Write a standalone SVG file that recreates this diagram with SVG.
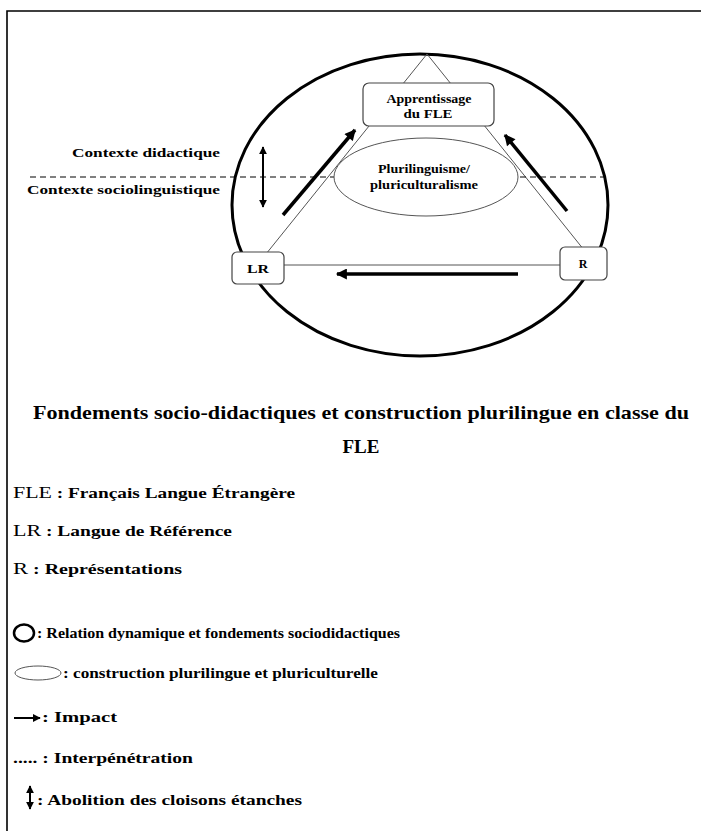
<svg xmlns="http://www.w3.org/2000/svg" width="701" height="831" viewBox="0 0 701 831">
<defs>
<style>
text{font-family:"Liberation Serif","Times New Roman",serif;fill:#000}
.b{font-weight:bold}
.box{fill:#fff;stroke:#444;stroke-width:1.2}
.thin{stroke:#555;stroke-width:1;fill:none}
.thick{stroke:#000;stroke-width:3.5;fill:none}
.lbl{font-size:12px;font-weight:bold;text-anchor:middle}
.leg{font-size:15px;font-weight:bold}
.legk{font-size:17px}
</style>
<marker id="ah" viewBox="0 0 10 10" refX="9" refY="5" markerWidth="13" markerHeight="11" markerUnits="userSpaceOnUse" orient="auto"><path d="M0,0 L10,5 L0,10 z" fill="#000"/></marker>
<marker id="ahs" viewBox="0 0 10 10" refX="9" refY="5" markerWidth="8" markerHeight="8" markerUnits="userSpaceOnUse" orient="auto-start-reverse"><path d="M0,0 L10,5 L0,10 z" fill="#000"/></marker>
</defs>
<rect width="701" height="831" fill="#fff"/>
<!-- frame -->
<path d="M7,831 V11 H701" fill="none" stroke="#000" stroke-width="1.6"/>

<g id="outer-circle"><ellipse cx="420" cy="205" rx="188" ry="151" fill="none" stroke="#000" stroke-width="3"/></g>

<g id="connectors">
<line class="thin" x1="427" y1="54" x2="266" y2="254"/>
<line class="thin" x1="427" y1="54" x2="584" y2="250"/>
<line class="thin" x1="284" y1="265" x2="560" y2="265"/>
<line x1="30" y1="177" x2="606" y2="177" stroke="#000" stroke-width="1" stroke-dasharray="6,4"/>
<line class="thick" x1="283" y1="215" x2="355" y2="130" marker-end="url(#ah)"/>
<line class="thick" x1="567" y1="211" x2="505" y2="135" marker-end="url(#ah)"/>
<line class="thick" x1="518" y1="274" x2="337" y2="274" marker-end="url(#ah)"/>
<line x1="263" y1="147" x2="263" y2="207" stroke="#000" stroke-width="2" marker-start="url(#ahs)" marker-end="url(#ahs)"/>
</g>

<g id="pluri">
<ellipse cx="426" cy="177" rx="92" ry="39" fill="#fff" stroke="#555" stroke-width="1"/>
<text class="lbl" x="424" y="173" textLength="92" lengthAdjust="spacingAndGlyphs">Plurilinguisme/</text>
<text class="lbl" x="424" y="189" textLength="108" lengthAdjust="spacingAndGlyphs">pluriculturalisme</text>
</g>

<g id="apprentissage">
<rect class="box" x="363" y="83" width="131" height="43" rx="6"/>
<text class="lbl" x="429" y="103" textLength="85" lengthAdjust="spacingAndGlyphs">Apprentissage</text>
<text class="lbl" x="428" y="118" textLength="49" lengthAdjust="spacingAndGlyphs">du FLE</text>
</g>

<g id="lr">
<rect class="box" x="232" y="252" width="52" height="32" rx="5"/>
<text class="lbl" x="258" y="273" font-size="13" textLength="22" lengthAdjust="spacingAndGlyphs">LR</text>
</g>

<g id="r">
<rect class="box" x="560" y="247" width="47" height="33" rx="5"/>
<text class="lbl" x="583" y="268" font-size="13">R</text>
</g>

<g id="context-labels">
<text class="b" x="220" y="157" font-size="13" text-anchor="end" textLength="148" lengthAdjust="spacingAndGlyphs">Contexte didactique</text>
<text class="b" x="220" y="194" font-size="13" text-anchor="end" textLength="193" lengthAdjust="spacingAndGlyphs">Contexte sociolinguistique</text>
</g>

<g id="title">
<text x="361" y="419" font-size="19" font-weight="bold" text-anchor="middle" textLength="656" lengthAdjust="spacingAndGlyphs">Fondements socio-didactiques et construction plurilingue en classe du</text>
<text x="361" y="453" font-size="19" font-weight="bold" text-anchor="middle">FLE</text>
</g>

<g id="legend">
<text x="13" y="498" textLength="282" lengthAdjust="spacingAndGlyphs"><tspan class="legk">FLE</tspan><tspan class="leg"> : Français Langue Étrangère</tspan></text>
<text x="13" y="536" textLength="219" lengthAdjust="spacingAndGlyphs"><tspan class="legk">LR</tspan><tspan class="leg"> : Langue de Référence</tspan></text>
<text x="13" y="574" textLength="169" lengthAdjust="spacingAndGlyphs"><tspan class="legk">R</tspan><tspan class="leg"> : Représentations</tspan></text>
<ellipse cx="24" cy="633" rx="10" ry="8.5" fill="none" stroke="#000" stroke-width="2.5"/>
<text class="leg" x="37" y="638" textLength="363" lengthAdjust="spacingAndGlyphs">: Relation dynamique et fondements sociodidactiques</text>
<ellipse cx="38" cy="673" rx="23" ry="7" fill="none" stroke="#555" stroke-width="1"/>
<text class="leg" x="63" y="678" textLength="315" lengthAdjust="spacingAndGlyphs">: construction plurilingue et pluriculturelle</text>
<line x1="14" y1="718" x2="40" y2="718" stroke="#000" stroke-width="2" marker-end="url(#ahs)"/>
<text class="leg" x="42" y="722" textLength="75" lengthAdjust="spacingAndGlyphs">: Impact</text>
<text class="leg" x="13" y="763" textLength="180" lengthAdjust="spacingAndGlyphs">..... : Interpénétration</text>
<line x1="30" y1="786" x2="30" y2="809" stroke="#000" stroke-width="2" marker-start="url(#ahs)" marker-end="url(#ahs)"/>
<text class="leg" x="37" y="805" textLength="265" lengthAdjust="spacingAndGlyphs">: Abolition des cloisons étanches</text>
</g>
</svg>
